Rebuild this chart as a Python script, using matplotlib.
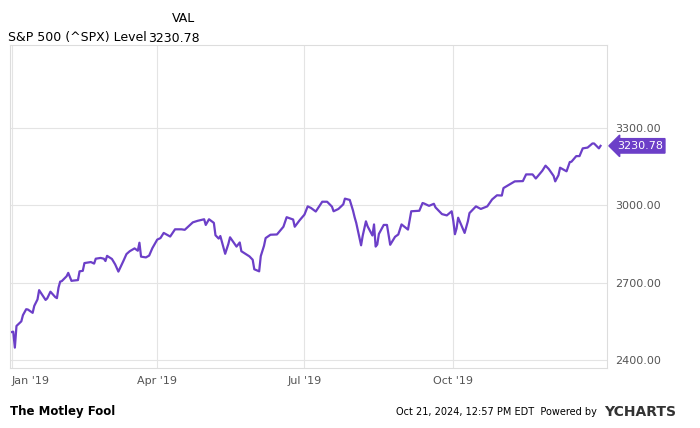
import matplotlib
matplotlib.use("Agg")
import matplotlib.pyplot as plt
import matplotlib.dates as mdates
import pandas as pd

dates = ["2018-12-31", "2019-01-02", "2019-01-03", "2019-01-04", "2019-01-07", "2019-01-08", "2019-01-10",
         "2019-01-11", "2019-01-14", "2019-01-15", "2019-01-17", "2019-01-18", "2019-01-22", "2019-01-23",
         "2019-01-25", "2019-01-28", "2019-01-29", "2019-01-30", "2019-01-31", "2019-02-01", "2019-02-04",
         "2019-02-05", "2019-02-07", "2019-02-08", "2019-02-11", "2019-02-12", "2019-02-14", "2019-02-15",
         "2019-02-19", "2019-02-21", "2019-02-22", "2019-02-25", "2019-02-27", "2019-02-28", "2019-03-01",
         "2019-03-04", "2019-03-06", "2019-03-08", "2019-03-11", "2019-03-13", "2019-03-15", "2019-03-18",
         "2019-03-20", "2019-03-21", "2019-03-22", "2019-03-25", "2019-03-27", "2019-03-29", "2019-04-01",
         "2019-04-03", "2019-04-05", "2019-04-09", "2019-04-12", "2019-04-16", "2019-04-18", "2019-04-23",
         "2019-04-26", "2019-04-30", "2019-05-01", "2019-05-03", "2019-05-06", "2019-05-07", "2019-05-09",
         "2019-05-10", "2019-05-13", "2019-05-15", "2019-05-16", "2019-05-20", "2019-05-22", "2019-05-23",
         "2019-05-28", "2019-05-30", "2019-05-31", "2019-06-03", "2019-06-04", "2019-06-06", "2019-06-07",
         "2019-06-10", "2019-06-14", "2019-06-18", "2019-06-20", "2019-06-24", "2019-06-25", "2019-06-28",
         "2019-07-01", "2019-07-03", "2019-07-05", "2019-07-08", "2019-07-12", "2019-07-15", "2019-07-18",
         "2019-07-19", "2019-07-22", "2019-07-25", "2019-07-26", "2019-07-29", "2019-07-31", "2019-08-01",
         "2019-08-02", "2019-08-05", "2019-08-06", "2019-08-08", "2019-08-09", "2019-08-12", "2019-08-13",
         "2019-08-14", "2019-08-15", "2019-08-16", "2019-08-19", "2019-08-21", "2019-08-23", "2019-08-26",
         "2019-08-28", "2019-08-30", "2019-09-03", "2019-09-05", "2019-09-10", "2019-09-12", "2019-09-13",
         "2019-09-16", "2019-09-19", "2019-09-20", "2019-09-24", "2019-09-27", "2019-09-30", "2019-10-01",
         "2019-10-02", "2019-10-03", "2019-10-04", "2019-10-08", "2019-10-10", "2019-10-11", "2019-10-15",
         "2019-10-18", "2019-10-22", "2019-10-25", "2019-10-28", "2019-10-31", "2019-11-01", "2019-11-04",
         "2019-11-08", "2019-11-13", "2019-11-15", "2019-11-19", "2019-11-21", "2019-11-25", "2019-11-27",
         "2019-11-29", "2019-12-02", "2019-12-03", "2019-12-05", "2019-12-06", "2019-12-10", "2019-12-12",
         "2019-12-13", "2019-12-16", "2019-12-18", "2019-12-20", "2019-12-23", "2019-12-26", "2019-12-27",
         "2019-12-30", "2019-12-31"]
values = [2507, 2510, 2448, 2532, 2550, 2574, 2597, 2596, 2583, 2610, 2635, 2671, 2633, 2639, 2665, 2644,
          2640, 2681, 2704, 2706, 2725, 2738, 2707, 2708, 2710, 2744, 2746, 2776, 2780, 2774, 2793, 2796,
          2793, 2784, 2804, 2792, 2771, 2743, 2783, 2811, 2822, 2833, 2824, 2855, 2801, 2798, 2805, 2834,
          2867, 2873, 2893, 2879, 2907, 2907, 2905, 2934, 2940, 2946, 2924, 2946, 2932, 2884, 2871, 2881,
          2812, 2851, 2876, 2840, 2856, 2822, 2802, 2789, 2752, 2744, 2803, 2843, 2873, 2886, 2887, 2917,
          2954, 2945, 2917, 2942, 2964, 2996, 2990, 2976, 3014, 3014, 2995, 2977, 2986, 3004, 3026, 3021,
          2980, 2954, 2932, 2845, 2882, 2938, 2919, 2883, 2926, 2840, 2848, 2889, 2924, 2924, 2847, 2878,
          2887, 2926, 2906, 2977, 2979, 3009, 3007, 2998, 3006, 2992, 2966, 2961, 2977, 2940, 2888, 2910,
          2952, 2893, 2938, 2970, 2996, 2986, 2996, 3023, 3039, 3038, 3067, 3078, 3093, 3094, 3120, 3120,
          3104, 3134, 3154, 3141, 3114, 3093, 3117, 3146, 3132, 3168, 3169, 3191, 3191, 3221, 3224, 3240,
          3240, 3221, 3230.78]
y_ticks = [2400, 2700, 3000, 3300]
x_ticks = ["2019-01-01", "2019-04-01", "2019-07-01", "2019-10-01"]
x = pd.to_datetime(dates)
purple = "#6c3fc8"

fig = plt.figure(figsize=(7, 4.28), dpi=100)
ax = fig.add_axes([10 / 700, 60 / 428, 597 / 700, 323 / 428])
ax.plot(x, values, color=purple, lw=1.6)
ax.set_xlim(pd.Timestamp("2018-12-31"), pd.Timestamp("2020-01-04"))
ax.set_ylim(2369, 3622)
ax.yaxis.tick_right()
ax.set_yticks(y_ticks)
ax.set_yticklabels([f"{v:.2f}" for v in y_ticks])
ax.set_xticks(pd.to_datetime(x_ticks))
ax.xaxis.set_major_formatter(mdates.DateFormatter("%b '%y"))
ax.tick_params(length=0, labelsize=8, colors="#555555", pad=6)
ax.grid(color="#e4e4e4", lw=0.8)
for s in ax.spines.values():
    s.set_color("#dddddd")
ax.get_xticklabels()[0].set_horizontalalignment("left")

ax.annotate(f"{values[-1]:.2f}", xy=(1.0, values[-1]), xycoords=("axes fraction", "data"),
            xytext=(7, 0), textcoords="offset points", va="center", ha="left", color="white",
            fontsize=8, bbox=dict(boxstyle="larrow,pad=0.2", fc=purple, ec=purple))

fig.text(172 / 700, 1 - 18 / 428, "VAL", fontsize=9, va="center")
fig.text(8 / 700, 1 - 38 / 428, "S&P 500 (^SPX) Level", fontsize=9, va="center")
fig.text(148 / 700, 1 - 38 / 428, f"{values[-1]:.2f}", fontsize=9, va="center")
fig.text(10 / 700, 1 - 412 / 428, "The Motley Fool", fontsize=8.5, weight="bold", va="center")
fig.text(597 / 700, 1 - 412 / 428, "Oct 21, 2024, 12:57 PM EDT  Powered by", fontsize=7,
         ha="right", va="center")
fig.text(604 / 700, 1 - 412 / 428, "YCHARTS", fontsize=10, weight="bold", color="#333333", va="center")
fig.savefig("out.png")
